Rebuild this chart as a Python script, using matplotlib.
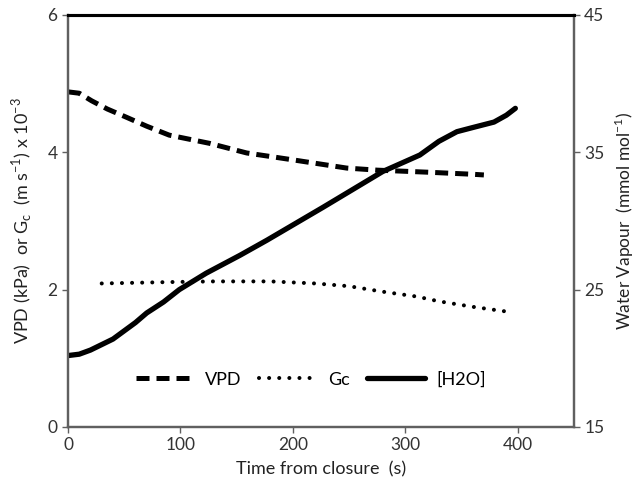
import matplotlib
matplotlib.use("Agg")
import matplotlib.pyplot as plt
from matplotlib.lines import Line2D

plt.rcParams['font.family'] = ['Lato', 'DejaVu Sans']

# Vapour pressure deficit (kPa)
vpd_time = [0, 10, 21, 35, 52, 70, 90, 126, 159, 200, 248, 275, 320, 360, 370]
vpd = [4.88, 4.86, 4.75, 4.63, 4.51, 4.38, 4.25, 4.13, 3.99, 3.89, 3.77, 3.74, 3.71, 3.68, 3.67]

# Canopy conductance (m s-1 x 10^-3)
gc_time = [30, 60, 90, 130, 180, 220, 250, 280, 310, 330, 360, 395]
gc = [2.09, 2.10, 2.11, 2.12, 2.12, 2.09, 2.05, 1.97, 1.90, 1.83, 1.75, 1.67]

# Chamber water vapour (mmol mol-1)
h2o_time = [0, 10, 20, 30, 40, 50, 60, 70, 85, 99, 123, 153, 177, 227, 280,
            313, 330, 346, 360, 379, 390, 398]
h2o = [20.2, 20.3, 20.6, 21.0, 21.4, 22.0, 22.6, 23.3, 24.1, 25.0, 26.2, 27.5, 28.6, 31.0, 33.6,
       34.8, 35.8, 36.5, 36.8, 37.2, 37.7, 38.2]

x_ticks = [0, 100, 200, 300, 400]
left_ticks = [0, 2, 4, 6]
right_ticks = [15, 25, 35, 45]

fig = plt.figure(figsize=(6.44, 4.98), dpi=100)
ax = fig.add_axes([0.1056, 0.1426, 0.7854, 0.8274])
ax2 = ax.twinx()

dash_style = dict(color='black', lw=3.6, dashes=(2.6, 1.4), solid_capstyle='butt')
dot_style = dict(color='black', lw=2.9, linestyle=(0, (0.01, 2.5)), dash_capstyle='round')
solid_style = dict(color='black', lw=3.8, solid_capstyle='round')

ax.plot(vpd_time, vpd, **dash_style)
ax.plot(gc_time, gc, **dot_style)
ax2.plot(h2o_time, h2o, **solid_style)

ax.set_xlim(0, 450)
ax.set_ylim(0, 6)
ax2.set_ylim(15, 45)
ax.set_xticks(x_ticks)
ax.set_yticks(left_ticks)
ax2.set_yticks(right_ticks)

grey = '#606060'
for a in (ax, ax2):
    for side in ('left', 'right', 'bottom'):
        a.spines[side].set_color(grey)
        a.spines[side].set_linewidth(1.6)
    a.spines['top'].set_color('black')
    a.spines['top'].set_linewidth(2.2)
    a.tick_params(colors=grey, labelcolor='#333333', labelsize=12.5,
                  length=4, width=1.0, direction='out')

ax.set_xlabel('Time from closure  (s)', fontsize=13, color='#222222', labelpad=6)
ax.set_ylabel(r'VPD (kPa)  or G$_\mathregular{c}$  (m s$^\mathregular{-1}$) x 10$^\mathregular{-3}$',
              fontsize=13, color='#222222', labelpad=10)
ax2.set_ylabel(r'Water Vapour  (mmol mol$^\mathregular{-1}$)', fontsize=12.5,
               color='#222222', labelpad=6)

handles = [Line2D([], [], **dash_style), Line2D([], [], **dot_style),
           Line2D([], [], **solid_style)]
ax2.legend(handles, ['VPD', 'Gc', '[H2O]'], loc='center', bbox_to_anchor=(0.48, 0.115),
           ncol=3, frameon=False, fontsize=13, handlelength=3.2, columnspacing=1.0,
           handletextpad=0.6)

fig.savefig('out.png', dpi=100)
